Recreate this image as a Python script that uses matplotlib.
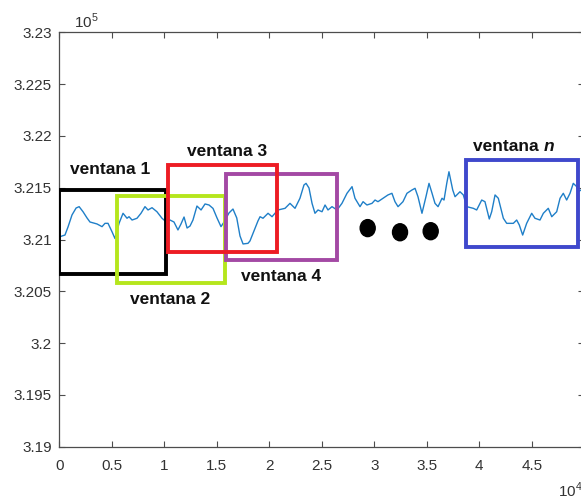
import matplotlib
matplotlib.use("Agg")
import matplotlib.pyplot as plt
from matplotlib.patches import Rectangle, Ellipse

plt.rcParams['font.family'] = ['Liberation Sans', 'DejaVu Sans']
plt.rcParams['mathtext.fontset'] = 'custom'
plt.rcParams['mathtext.rm'] = 'Liberation Sans'

# signal, x in 1e4 units, y in 1e5 units
t = [0.0, 0.026, 0.054, 0.083, 0.121, 0.160, 0.189, 0.226, 0.264, 0.292,
     0.359, 0.407, 0.435, 0.464, 0.502, 0.530, 0.569, 0.607, 0.645, 0.664,
     0.693, 0.740, 0.778, 0.816, 0.845, 0.883, 0.930, 0.978, 1.016, 1.054,
     1.092, 1.130, 1.159, 1.188, 1.217, 1.245, 1.273, 1.311, 1.350, 1.388,
     1.426, 1.464, 1.502, 1.540, 1.569, 1.616, 1.654, 1.690, 1.721, 1.750,
     1.797, 1.816, 1.845, 1.892, 1.912, 1.940, 1.988, 2.026, 2.054, 2.083,
     2.150, 2.197, 2.245, 2.292, 2.330, 2.350, 2.378, 2.407, 2.435, 2.464,
     2.502, 2.531, 2.559, 2.597, 2.645, 2.692, 2.740, 2.788, 2.816, 2.864,
     2.893, 2.930, 2.978, 3.007, 3.035, 3.083, 3.130, 3.168, 3.197, 3.226,
     3.273, 3.311, 3.359, 3.388, 3.416, 3.454, 3.492, 3.521, 3.550, 3.578,
     3.607, 3.645, 3.664, 3.690, 3.711, 3.747, 3.769, 3.816, 3.848, 3.880,
     3.943, 3.975, 4.023, 4.054, 4.095, 4.118, 4.150, 4.181, 4.229, 4.261,
     4.324, 4.356, 4.381, 4.413, 4.451, 4.499, 4.530, 4.578, 4.610, 4.657,
     4.690, 4.737, 4.769, 4.800, 4.832, 4.864, 4.895, 4.928, 4.943, 4.969,
     5.0]
signal = [3.21024, 3.21034, 3.21043, 3.21121, 3.21237, 3.21304, 3.21317, 3.21268, 3.21208, 3.21169,
          3.21150, 3.21124, 3.21156, 3.21156, 3.21075, 3.21010, 3.21156, 3.21253, 3.21205, 3.21220,
          3.21188, 3.21205, 3.21253, 3.21317, 3.21285, 3.21307, 3.21268, 3.21205, 3.21172, 3.21188,
          3.21169, 3.21092, 3.21150, 3.21217, 3.21111, 3.21130, 3.21188, 3.21323, 3.21285, 3.21343,
          3.21333, 3.21300, 3.21208, 3.21124, 3.21169, 3.21256, 3.21294, 3.21208, 3.21034, 3.20957,
          3.20963, 3.20986, 3.21060, 3.21179, 3.21220, 3.21205, 3.21253, 3.21220, 3.21253, 3.21285,
          3.21301, 3.21349, 3.21301, 3.21398, 3.21526, 3.21542, 3.21497, 3.21349, 3.21253, 3.21285,
          3.21268, 3.21333, 3.21285, 3.21317, 3.21285, 3.21349, 3.21446, 3.21510, 3.21398, 3.21317,
          3.21365, 3.21333, 3.21349, 3.21381, 3.21365, 3.21398, 3.21430, 3.21446, 3.21365, 3.21317,
          3.21365, 3.21446, 3.21478, 3.21494, 3.21413, 3.21253, 3.21413, 3.21542, 3.21446, 3.21349,
          3.21317, 3.21398, 3.21381, 3.21542, 3.21654, 3.21478, 3.21413, 3.21461, 3.21430, 3.21317,
          3.21301, 3.21285, 3.21381, 3.21365, 3.21198, 3.21268, 3.21430, 3.21398, 3.21205, 3.21156,
          3.21156, 3.21188, 3.21140, 3.21043, 3.21156, 3.21253, 3.21205, 3.21188, 3.21253, 3.21301,
          3.21220, 3.21268, 3.21398, 3.21446, 3.21381, 3.21446, 3.21542, 3.21510, 3.21461, 3.21478,
          3.21470]

# windows: (x0, x1, y_bottom, y_top), drawn in this order
win_x0 = [0.0, 0.547, 1.588, 1.038, 3.870]
win_x1 = [1.02, 1.578, 2.648, 2.070, 4.940]
win_ylo = [3.2067, 3.2058, 3.2080, 3.2088, 3.2093]
win_yhi = [3.2148, 3.2142, 3.2163, 3.2172, 3.2177]
win_colors = ['#000000', '#b5e61d', '#a349a4', '#ed1c24', '#3f48cc']

# labels: center x, baseline y
lab_text = ['ventana 1', 'ventana 2', 'ventana 4', 'ventana 3']
lab_x = [0.483, 1.054, 2.111, 1.594]
lab_y = [3.21629, 3.20375, 3.2060, 3.21806]

dots_x = [2.937, 3.245, 3.537]
dots_y = [3.2111, 3.2107, 3.2108]

xticks = [0, 0.5, 1, 1.5, 2, 2.5, 3, 3.5, 4, 4.5, 5]
xticklabels = ['0', '0.5', '1', '1.5', '2', '2.5', '3', '3.5', '4', '4.5', '5']
yticks = [3.19, 3.195, 3.2, 3.205, 3.21, 3.215, 3.22, 3.225, 3.23]
yticklabels = ['3.19', '3.195', '3.2', '3.205', '3.21', '3.215', '3.22', '3.225', '3.23']

axcol = '#4d4d4d'
txtcol = '#333333'

fig = plt.figure(figsize=(5.81, 5.0), dpi=100)
ax = fig.add_axes([59.3/581, 53.3/500, 525/581, 414.4/500])

ax.plot(t, signal, color='#1f7fc8', lw=1.0, zorder=2)

for i in range(len(win_x0)):
    r = Rectangle((win_x0[i], win_ylo[i]), win_x1[i]-win_x0[i], win_yhi[i]-win_ylo[i],
                  fill=False, edgecolor=win_colors[i], lw=2.8, joinstyle='miter', zorder=3+i)
    ax.add_patch(r)

for i in range(len(lab_text)):
    ax.text(lab_x[i], lab_y[i], lab_text[i], ha='center', va='baseline',
            fontsize=12.5, fontweight='bold', color='#111111')

tn = ax.text(3.943, 3.21854, 'ventana ', ha='left', va='baseline', fontsize=12.5,
             fontweight='bold', color='#111111')
ax.annotate('n', xy=(1, 0), xycoords=tn, ha='left', va='bottom', fontsize=12.5,
            fontweight='bold', fontstyle='italic', color='#111111')

for i in range(len(dots_x)):
    ax.add_patch(Ellipse((dots_x[i], dots_y[i]), 0.143, 0.00164, color='black', zorder=10))

ax.set_xlim(0, 5)
ax.set_ylim(3.19, 3.23)
ax.set_xticks(xticks)
ax.set_xticklabels(xticklabels)
ax.set_yticks(yticks)
ax.set_yticklabels(yticklabels)
ax.tick_params(direction='in', top=True, right=True, length=4, width=0.8,
               color=axcol, labelcolor=txtcol, labelsize=11)
ax.tick_params(axis='y', pad=5.5)
ax.tick_params(axis='x', pad=8.5)
for s in ax.spines.values():
    s.set_color(axcol)
    s.set_linewidth(0.9)

fig.text(74/581, 1-28/500, r'$10^{5}$', fontsize=11, color=txtcol, va='baseline', ha='left')
fig.text(558/581, 3/500, r'$10^{4}$', fontsize=11, color=txtcol, va='baseline', ha='left')

fig.savefig('out.png', dpi=100)
